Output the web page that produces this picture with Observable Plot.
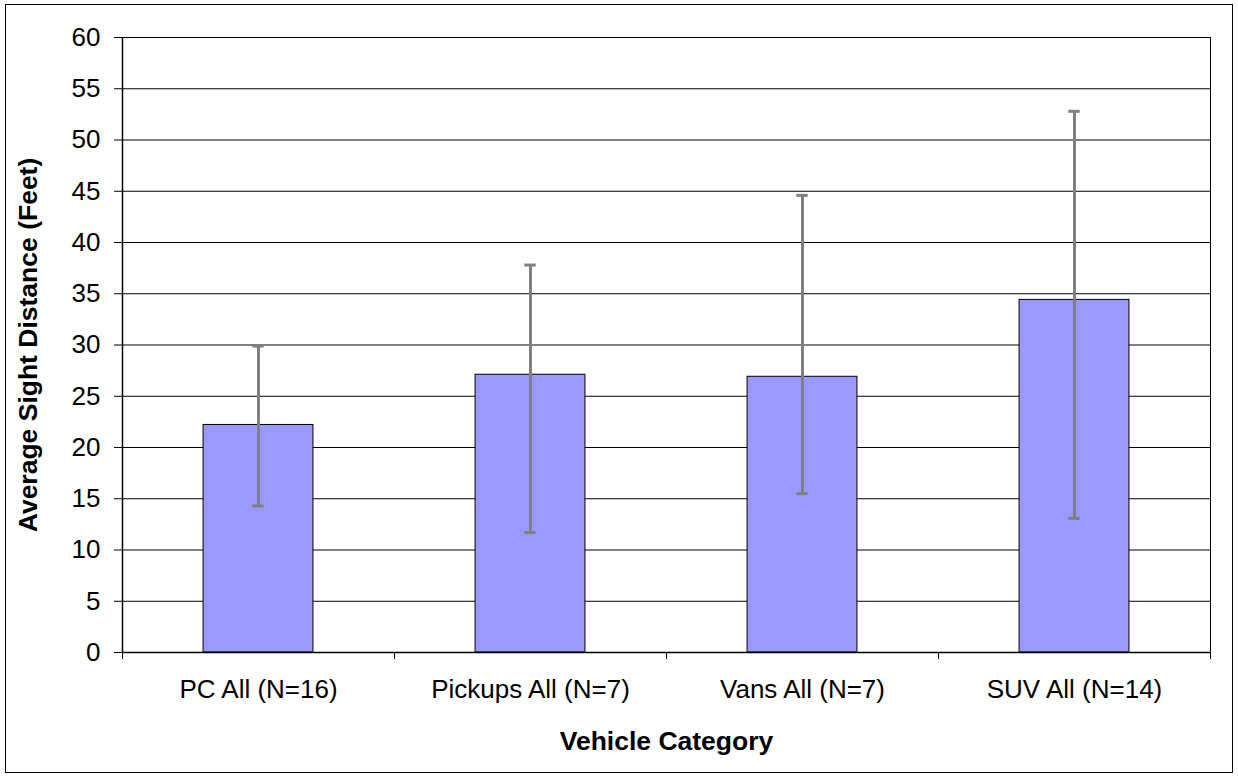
<!DOCTYPE html>
<html><head><meta charset="utf-8">
<script src="https://cdn.jsdelivr.net/npm/d3@7"></script>
<script src="https://cdn.jsdelivr.net/npm/@observablehq/plot@0.6"></script>
<style>
body{margin:0;background:#fff;}
#wrap{position:relative;width:1238px;height:778px;overflow:hidden;}
#frame{position:absolute;left:5px;top:4px;width:1226px;height:767px;border:1px solid #000;pointer-events:none;}
</style></head><body><div id="wrap"><div id="frame"></div></div>
<script>
const categories = ["PC All (N=16)", "Pickups All (N=7)", "Vans All (N=7)", "SUV All (N=14)"];
const means = [22.2, 27.1, 26.9, 34.4];
const errLow = [14.3, 11.7, 15.5, 13.1];
const errHigh = [29.9, 37.8, 44.6, 52.8];
const yTicks = [0, 5, 10, 15, 20, 25, 30, 35, 40, 45, 50, 55, 60];
const xTitle = "Vehicle Category";
const yTitle = "Average Sight Distance (Feet)";

const data = categories.map((c, i) => ({i, cat: c, mean: means[i], lo: errLow[i], hi: errHigh[i]}));
const boundaries = categories.map((c, i) => i - 0.5).concat([categories.length - 0.5]);
const half = 0.202, cap = 0.021;

const chart = Plot.plot({
  width: 1238, height: 778,
  marginLeft: 122, marginRight: 28, marginTop: 37, marginBottom: 126,
  style: {fontFamily: "'Liberation Sans', Arial, sans-serif", fontSize: "26px", color: "#000", background: "transparent"},
  x: {type: "linear", domain: [-0.5, categories.length - 0.5]},
  y: {domain: [0, 60]},
  marks: [
    Plot.gridY(yTicks, {stroke: "#000", strokeOpacity: 1, strokeWidth: 1}),
    Plot.rectY(data, {x1: d => d.i - half, x2: d => d.i + half, y1: 0, y2: "mean", fill: "#9999FF", stroke: "#000", strokeWidth: 1}),
    Plot.ruleX(data, {x: "i", y1: "lo", y2: "hi", stroke: "#808080", strokeWidth: 3}),
    Plot.ruleY(data, {y: "hi", x1: d => d.i - cap, x2: d => d.i + cap, stroke: "#808080", strokeWidth: 3}),
    Plot.ruleY(data, {y: "lo", x1: d => d.i - cap, x2: d => d.i + cap, stroke: "#808080", strokeWidth: 3}),
    Plot.ruleX([-0.5], {stroke: "#000", strokeWidth: 1.5}),
    Plot.ruleX([categories.length - 0.5], {stroke: "#000", strokeWidth: 1}),
    Plot.ruleY([0], {stroke: "#000", strokeWidth: 1.5}),
    Plot.axisY(yTicks, {tickSize: 8, tickPadding: 14, label: null, tickFormat: d => String(d)}),
    Plot.axisX(boundaries, {tickSize: 7, tickFormat: () => "", label: null}),
    Plot.axisX(data.map(d => d.i), {tickSize: 0, tickPadding: 27, tickFormat: i => categories[i], label: null}),
    Plot.text([xTitle], {frameAnchor: "bottom", dy: 97, fontWeight: "bold", fontSize: 26.5, text: d => d}),
    Plot.text([yTitle], {frameAnchor: "left", textAnchor: "middle", dx: -94, dy: 0, rotate: -90, fontWeight: "bold", fontSize: 26.5, text: d => d})
  ]
});
document.getElementById("wrap").prepend(chart);
</script>
</body></html>
